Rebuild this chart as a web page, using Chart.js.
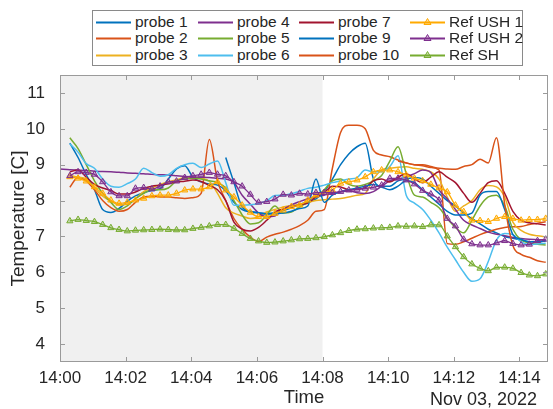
<!DOCTYPE html>
<html>
<head>
<meta charset="utf-8">
<script src="https://cdn.jsdelivr.net/npm/chart.js@4.4.1/dist/chart.umd.min.js"></script>
<style>
  html, body { margin: 0; padding: 0; background: #fff; }
  #wrap { position: relative; width: 553px; height: 409px; font-family: "Liberation Sans", Arial, sans-serif; }
  #legend { position: absolute; left: 92px; top: 10px; width: 431px; height: 56px; border: 1px solid #8a8a8a; background: #fff; box-sizing: border-box; }
  .item { position: absolute; height: 17px; display: flex; align-items: center; font-size: 15.5px; color: #262626; white-space: nowrap; }
  .item svg { margin-right: 4px; }
</style>
</head>
<body>
<div id="wrap">
  <canvas id="chart" width="553" height="409"></canvas>
  <div id="legend"></div>
</div>
<script>
// sample times, minutes after 14:00 (every 15 s)
const times = [
  0.3, 0.55, 0.8, 1.05, 1.3, 1.55, 1.8, 2.05, 2.3, 2.55,
  2.8, 3.05, 3.3, 3.55, 3.8, 4.05, 4.3, 4.55, 4.8, 5.05,
  5.3, 5.55, 5.8, 6.05, 6.3, 6.55, 6.8, 7.05, 7.3, 7.55,
  7.8, 8.05, 8.3, 8.55, 8.8, 9.05, 9.3, 9.55, 9.8, 10.05,
  10.3, 10.55, 10.8, 11.05, 11.3, 11.55, 11.8, 12.05, 12.3, 12.55,
  12.8, 13.05, 13.3, 13.55, 13.8, 14.05, 14.3, 14.55, 14.8,
];

const xTicks = [0, 2, 4, 6, 8, 10, 12, 14];
const yTicks = [4, 5, 6, 7, 8, 9, 10, 11];
const shadedUntil = 8; // grey background up to 14:08
const dateLabel = "Nov 03, 2022";

const probe1 = [
  9.6, 9.2, 8.72, 8.3, 7.75, 7.67, 7.78, 7.98, 8.13, 8.22,
  8.28, 8.33, 8.6, 8.88, 8.97, 8.65, 8.52, 8.46, 8.43, 8.27,
  7.95, 7.75, 7.68, 7.65, 7.64, 7.66, 7.72, 7.8, 7.9, 7.95,
  8.05, 8.25, 8.6, 9.0, 9.3, 9.5, 9.6, 8.6, 8.4, 8.4,
  8.55, 8.6, 8.64, 8.6, 8.4, 8.2, 8.0, 7.85, 7.65, 7.5,
  7.35, 7.2, 7.1, 7.0, 6.95, 6.9, 6.85, 6.85, 6.88,
];
const probe2 = [
  8.37, 8.65, 8.55, 8.3, 8.0, 7.8, 7.7, 7.75, 7.95, 8.1,
  8.12, 8.1, 8.1, 8.08, 8.06, 8.08, 8.2, 9.7, 8.55, 8.0,
  7.5, 7.2, 6.98, 6.86, 6.98, 7.06, 7.12, 7.2, 7.3, 7.45,
  7.7, 7.75, 8.9, 9.9, 10.1, 10.1, 10.0, 9.4, 9.27, 9.22,
  9.13, 9.05, 9.0, 8.97, 8.92, 8.85, 6.8, 6.78, 6.85, 6.95,
  7.05, 7.13, 7.2, 7.25, 7.27, 7.28, 7.33, 7.37, 7.41,
];
const probe3 = [
  8.7, 8.65, 8.6, 8.35, 8.12, 7.98, 7.88, 7.9, 8.05, 8.25,
  8.35, 8.45, 8.52, 8.58, 8.64, 8.65, 8.62, 8.54, 8.2, 7.8,
  7.65, 7.57, 7.5, 7.55, 7.68, 7.75, 7.82, 7.86, 7.9, 7.95,
  8.0, 8.02, 8.04, 8.06, 8.1, 8.15, 8.2, 8.6, 8.85, 8.9,
  8.93, 8.94, 8.9, 8.87, 8.8, 8.6, 8.1, 7.7, 7.85, 8.0,
  8.3, 8.42, 8.38, 8.1, 7.4, 7.17, 7.06, 7.02, 6.99,
];
const probe4Lead = { minute: 0, value: 8.88 };
const probe4 = [
  8.86, 8.85, 8.84, 8.82, 8.81, 8.8, 8.79, 8.77, 8.76, 8.75,
  8.73, 8.72, 8.71, 8.69, 8.67, 8.66, 8.65, 8.64, 8.62, 8.6,
  8.5, 8.15, 7.9, 7.65, 7.55, 7.57, 7.75, 7.88, 7.97, 8.05,
  8.1, 8.15, 8.2, 8.24, 8.27, 8.22, 8.2, 8.25, 8.4, 8.55,
  8.6, 8.66, 8.75, 8.85, 8.78, 8.3, 8.05, 7.75, 7.45, 7.32,
  7.22, 7.12, 7.06, 7.02, 6.97, 6.94, 6.92, 6.91, 6.9,
];
const probe5 = [
  9.75, 9.45, 9.0, 8.55, 8.2, 7.95, 7.75, 7.85, 8.05, 8.2,
  8.3, 8.3, 8.35, 8.55, 8.6, 8.62, 8.6, 8.55, 8.5, 8.35,
  8.0, 7.6, 7.35, 7.38, 7.6, 7.85, 7.65, 7.68, 7.82, 7.95,
  8.1, 8.3, 8.55, 8.6, 8.45, 8.4, 8.45, 8.55, 8.7, 9.1,
  9.5, 8.75, 8.15, 8.1, 7.95, 7.8, 7.5, 7.25, 7.1, 7.45,
  7.85, 8.1, 8.15, 7.85, 7.2, 6.9, 6.82, 6.78, 6.76,
];
const probe6 = [
  9.58, 9.35, 9.03, 8.9, 8.6, 8.4, 8.37, 8.47, 8.6, 8.9,
  8.78, 8.68, 8.72, 8.9, 9.0, 9.04, 8.92, 9.02, 9.1, 8.5,
  7.87, 7.87, 7.88, 7.92, 8.0, 8.14, 8.15, 8.19, 8.26, 8.34,
  8.37, 8.43, 8.5, 8.55, 8.6, 8.64, 8.85, 8.8, 8.8, 8.95,
  9.25, 8.15, 7.93, 7.75, 7.45, 7.1, 6.7, 6.35, 6.0, 5.75,
  5.82, 6.3, 6.9, 7.08, 7.05, 6.85, 6.77, 6.79, 6.81,
];
const probe7 = [
  8.8, 8.85, 8.65, 8.45, 8.35, 8.28, 8.18, 8.18, 8.24, 8.34,
  8.4, 8.43, 8.47, 8.52, 8.54, 8.57, 8.53, 8.42, 8.3, 8.0,
  7.4, 7.2, 7.15, 7.25, 7.45, 7.68, 7.76, 7.82, 7.88, 7.93,
  8.1, 8.22, 8.4, 8.38, 8.3, 8.32, 8.36, 8.55, 8.6, 8.52,
  8.65, 8.75, 8.6, 8.5, 8.65, 8.8, 8.65, 8.5, 8.2, 7.95,
  8.2, 8.5, 8.55, 8.2, 7.7, 7.45, 7.38, 7.35, 7.32,
];
const probe9 = [
  null, null, null, null, null, null, null, null, null, null,
  null, null, null, null, null, null, null, null, null, 9.2,
  8.5, 7.82, 7.7, 7.66, 7.62, 7.63, 7.65, 7.7, 7.78, 7.85,
  8.6, 7.95, 8.15, 8.25, 8.3, 8.35, 8.4, 8.45, 8.38, 8.3,
  8.4, 8.55, 8.5, 8.3, 8.1, 7.9, 7.7, 7.6, 7.6, 7.65,
  8.15, 8.25, 8.25, 7.75, 7.05, 6.92, 6.85, 6.85, 6.88,
];
const probe10 = [
  null, null, null, null, null, null, null, null, null, null,
  null, null, null, null, null, null, null, null, null, null,
  null, null, null, null, null, null, null, null, null, null,
  null, null, null, null, null, null, null, null, null, null,
  9.1, 9.05, 9.0, 9.0, 8.95, 8.9, 8.88, 8.87, 8.95, 9.0,
  9.15, 9.05, 9.75, 7.9, 6.75, 6.5, 6.42, 6.32, 6.28,
];
const refUsh1 = [
  8.66, 8.62, 8.54, 8.38, 8.2, 8.01, 7.92, 7.95, 8.01, 8.06,
  8.13, 8.15, 8.15, 8.2, 8.29, 8.32, 8.32, 8.38, 8.52, 8.29,
  8.1, 7.87, 7.67, 7.55, 7.55, 7.64, 7.73, 7.83, 7.87, 8.01,
  8.15, 8.22, 8.29, 8.48, 8.52, 8.57, 8.66, 8.8, 8.85, 8.85,
  8.8, 8.71, 8.62, 8.55, 8.45, 8.35, 8.24, 7.87, 7.69, 7.45,
  7.44, 7.41, 7.5, 7.55, 7.5, 7.45, 7.47, 7.47, 7.5,
];
const refUsh2 = [
  8.69, 8.8, 8.78, 8.73, 8.52, 8.24, 8.13, 8.13, 8.34, 8.36,
  8.32, 8.4, 8.52, 8.54, 8.64, 8.69, 8.73, 8.78, 8.73, 8.69,
  8.52, 8.4, 8.17, 7.95, 7.97, 8.04, 8.17, 8.15, 8.2, 8.18,
  8.22, 8.22, 8.22, 8.25, 8.29, 8.31, 8.34, 8.37, 8.43, 8.62,
  8.62, 8.57, 8.46, 8.28, 8.18, 8.01, 7.5, 7.29, 6.92, 6.79,
  6.76, 6.76, 6.82, 6.88, 6.8, 6.76, 6.78, 6.88, 6.92,
];
const refSh = [
  7.43, 7.47, 7.44, 7.41, 7.33, 7.24, 7.19, 7.15, 7.17, 7.18,
  7.19, 7.2, 7.19, 7.18, 7.18, 7.22, 7.25, 7.29, 7.33, 7.33,
  7.22, 7.08, 6.94, 6.87, 6.83, 6.84, 6.87, 6.9, 6.93, 6.94,
  6.96, 6.99, 7.04, 7.1, 7.16, 7.2, 7.21, 7.23, 7.24, 7.25,
  7.29, 7.28, 7.29, 7.27, 7.32, 7.32, 7.01, 6.71, 6.43, 6.23,
  6.11, 6.04, 6.14, 6.14, 6.11, 5.99, 5.92, 5.9, 5.95,
];

// legend order (column by column, 3 rows)
const series = [
  { label: "probe 1", values: probe1, color: "#0072BD" },
  { label: "probe 2", values: probe2, color: "#D95319" },
  { label: "probe 3", values: probe3, color: "#EDB120" },
  { label: "probe 4", values: probe4, color: "#7E2F8E", lead: probe4Lead },
  { label: "probe 5", values: probe5, color: "#77AC30" },
  { label: "probe 6", values: probe6, color: "#4DBEEE" },
  { label: "probe 7", values: probe7, color: "#A2142F" },
  { label: "probe 9", values: probe9, color: "#0072BD" },
  { label: "probe 10", values: probe10, color: "#D95319" },
  { label: "Ref USH 1", values: refUsh1, color: "#FFAA00", marker: true, fill: "rgba(255,170,0,0.35)" },
  { label: "Ref USH 2", values: refUsh2, color: "#7E2F8E", marker: true, fill: "rgba(126,47,142,0.3)" },
  { label: "Ref SH", values: refSh, color: "#77AC30", marker: true, fill: "rgba(119,172,48,0.35)" },
];

function buildPoints(s) {
  const pts = times.map((t, i) => ({ x: t, y: s.values[i] }));
  if (s.lead) pts.unshift({ x: s.lead.minute, y: s.lead.value });
  return pts;
}

const textColor = "#262626";
const boxColor = "#9a9a9a";
const fontFamily = '"Liberation Sans", Arial, sans-serif';

// grey block, box with inward ticks, date label
const matlabAxes = {
  id: "matlabAxes",
  beforeDatasetsDraw(chart) {
    const { ctx, chartArea: a, scales } = chart;
    const xs = scales.x.getPixelForValue(0);
    const xe = scales.x.getPixelForValue(shadedUntil);
    ctx.save();
    ctx.fillStyle = "#f0f0f0";
    ctx.fillRect(xs, a.top, xe - xs, a.bottom - a.top);
    ctx.restore();
  },
  afterDraw(chart) {
    const { ctx, chartArea: a, scales } = chart;
    ctx.save();
    ctx.strokeStyle = boxColor;
    ctx.lineWidth = 1;
    ctx.strokeRect(a.left + 0.5, a.top + 0.5, a.right - a.left - 1, a.bottom - a.top - 1);
    ctx.beginPath();
    xTicks.forEach((v) => {
      const px = Math.round(scales.x.getPixelForValue(v)) + 0.5;
      ctx.moveTo(px, a.bottom);
      ctx.lineTo(px, a.bottom - 5);
      ctx.moveTo(px, a.top);
      ctx.lineTo(px, a.top + 5);
    });
    yTicks.forEach((v) => {
      const py = Math.round(scales.y.getPixelForValue(v)) + 0.5;
      ctx.moveTo(a.left, py);
      ctx.lineTo(a.left + 5, py);
      ctx.moveTo(a.right, py);
      ctx.lineTo(a.right - 5, py);
    });
    ctx.stroke();
    ctx.fillStyle = textColor;
    ctx.font = "18px " + fontFamily;
    ctx.textAlign = "right";
    ctx.textBaseline = "alphabetic";
    ctx.fillText(dateLabel, 537, 404.5);
    ctx.restore();
  },
};

new Chart(document.getElementById("chart"), {
  type: "line",
  data: {
    datasets: series.map((s, i) => ({
      label: s.label,
      data: buildPoints(s),
      borderColor: s.color,
      backgroundColor: s.fill || s.color,
      borderWidth: s.marker ? 1.3 : 1.5,
      pointStyle: "triangle",
      pointRadius: s.marker ? 3.6 : 0,
      pointBorderWidth: 1,
      pointBorderColor: s.color,
      pointBackgroundColor: s.fill || s.color,
      cubicInterpolationMode: "monotone",
      fill: false,
      spanGaps: false,
      order: series.length - i,
    })),
  },
  options: {
    responsive: false,
    animation: false,
    layout: { padding: { top: 75, right: 1, left: 0, bottom: 0 } },
    plugins: { legend: { display: false }, tooltip: { enabled: false } },
    scales: {
      x: {
        type: "linear",
        min: 0,
        max: 14.87,
        afterFit: (s) => { s.height = 47; },
        afterBuildTicks: (s) => { s.ticks = xTicks.map((v) => ({ value: v })); },
        grid: { display: false },
        border: { display: false },
        ticks: {
          autoSkip: false,
          maxRotation: 0,
          padding: -2,
          color: textColor,
          font: { family: fontFamily, size: 17 },
          callback: (v) => "14:" + String(v).padStart(2, "0"),
        },
        title: {
          display: true,
          text: "Time",
          color: textColor,
          font: { family: fontFamily, size: 18.5 },
          padding: { top: 0, bottom: 0 },
        },
      },
      y: {
        min: 3.5,
        max: 11.5,
        afterFit: (s) => { s.width = 60; },
        afterBuildTicks: (s) => { s.ticks = yTicks.map((v) => ({ value: v })); },
        grid: { display: false },
        border: { display: false },
        ticks: {
          padding: 7,
          color: textColor,
          font: { family: fontFamily, size: 17 },
        },
        title: {
          display: true,
          text: "Temperature [C]",
          color: textColor,
          font: { family: fontFamily, size: 19 },
          padding: { top: 7.5, bottom: 0 },
        },
      },
    },
  },
  plugins: [matlabAxes],
});

// legend box: 4 columns x 3 rows, filled column by column
const legendCols = [3, 105, 206, 317];
const legendRows = [2, 18.5, 35];
const legendEl = document.getElementById("legend");
series.forEach((s, i) => {
  const item = document.createElement("div");
  item.className = "item";
  item.style.left = legendCols[Math.floor(i / 3)] + "px";
  item.style.top = legendRows[i % 3] + "px";
  const tri = s.marker
    ? `<polygon points="17.5,1.5 21,7.5 14,7.5" fill="${s.fill}" stroke="${s.color}" stroke-width="1"/>`
    : "";
  item.innerHTML = `<svg width="35" height="10"><line x1="0" y1="5.5" x2="35" y2="5.5" stroke="${s.color}" stroke-width="2"/>${tri}</svg><span>${s.label}</span>`;
  legendEl.appendChild(item);
});
</script>
</body>
</html>
